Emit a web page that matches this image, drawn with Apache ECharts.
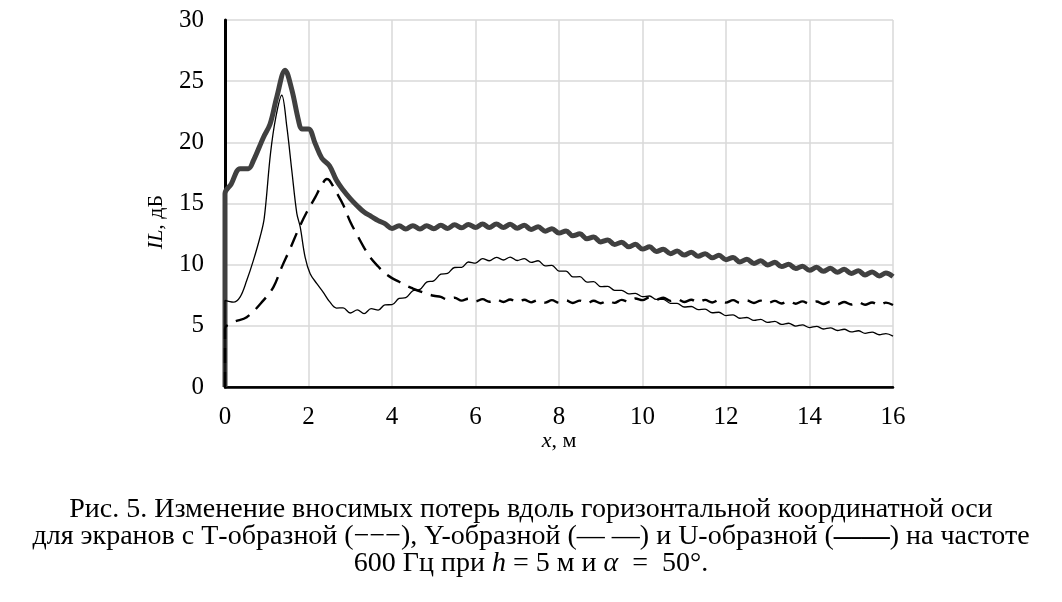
<!DOCTYPE html>
<html>
<head>
<meta charset="utf-8">
<script src="https://cdn.jsdelivr.net/npm/echarts@6/dist/echarts.min.js"></script>
<style>
  html, body { margin: 0; padding: 0; background: #fff; }
  #main { width: 1062px; height: 602px; }
</style>
</head>
<body>
<div id="main"></div>
<script>
var FONT = '"Liberation Serif", "Times New Roman", serif';

// x ticks / y ticks
var xTicks = [0, 2, 4, 6, 8, 10, 12, 14, 16];
var yTicks = [0, 5, 10, 15, 20, 25, 30];

// начальные участки кривых (x, IL)
var uHeadX = [0, 0, 0.15, 0.36, 0.56, 0.68, 0.92, 1.08, 1.24, 1.44, 1.6, 1.76, 1.84, 2.0, 2.16, 2.32];
var uHeadY = [0, 15.8, 16.6, 17.85, 17.85, 18.5, 20.4, 21.5, 23.7, 25.9, 24.3, 21.8, 21.1, 21.1, 19.9, 18.7];

var tHeadX = [0, 0, 0.2, 0.36, 0.52, 0.68, 0.84, 0.94, 1.09, 1.22, 1.36, 1.48, 1.6, 1.72, 1.8, 1.92, 2.04, 2.2, 2.35];
var tHeadY = [0, 7.08, 6.94, 7.35, 8.7, 10.35, 12.26, 13.8, 19.1, 22.1, 23.85, 21.3, 17.7, 14.2, 13.1, 10.6, 9.26, 8.45, 7.76];

var yHeadX = [0, 0, 0.2, 0.52, 0.92, 1.16, 1.36, 1.56, 1.76, 1.96, 2.16, 2.3, 2.44];
var yHeadY = [0, 4.76, 5.3, 5.7, 7.08, 8.17, 9.8, 11.3, 12.9, 14.3, 15.5, 16.4, 17.0];

// общая сетка x для дальнего участка (с пульсациями)
var xr = [2.5, 2.67, 2.83,
  3, 3.17, 3.33, 3.5, 3.67, 3.83,
  4, 4.17, 4.33, 4.5, 4.67, 4.83,
  5, 5.17, 5.33, 5.5, 5.67, 5.83,
  6, 6.17, 6.33, 6.5, 6.67, 6.83,
  7, 7.17, 7.33, 7.5, 7.67, 7.83,
  8, 8.17, 8.33, 8.5, 8.67, 8.83,
  9, 9.17, 9.33, 9.5, 9.67, 9.83,
  10, 10.17, 10.33, 10.5, 10.67, 10.83,
  11, 11.17, 11.33, 11.5, 11.67, 11.83,
  12, 12.17, 12.33, 12.5, 12.67, 12.83,
  13, 13.17, 13.33, 13.5, 13.67, 13.83,
  14, 14.17, 14.33, 14.5, 14.67, 14.83,
  15, 15.17, 15.33, 15.5, 15.67, 15.83,
  16];

// U-образный экран
var uTail = [18.1, 16.9, 16.1,
  15.4, 14.8, 14.3, 13.95, 13.6, 13.35,
  12.96, 13.19, 12.91, 13.19, 12.91, 13.19,
  12.94, 13.22, 12.96, 13.26, 13.01, 13.29,
  13.04, 13.32, 13.04, 13.32, 13.04, 13.3,
  12.98, 13.22, 12.88, 13.09, 12.74, 12.94,
  12.58, 12.76, 12.36, 12.52, 12.11, 12.26,
  11.86, 12.02, 11.64, 11.84, 11.46, 11.66,
  11.28, 11.46, 11.08, 11.26, 10.9, 11.12,
  10.78, 11.02, 10.68, 10.9, 10.56, 10.76,
  10.4, 10.59, 10.22, 10.44, 10.1, 10.32,
  9.98, 10.2, 9.84, 10.04, 9.68, 9.88,
  9.54, 9.78, 9.46, 9.7, 9.38, 9.62,
  9.28, 9.5, 9.16, 9.4, 9.08, 9.32,
  9.02];

// Т-образный экран
var tTail = [7.0, 6.45, 6.47,
  6.05, 6.3, 6.0, 6.4, 6.28, 6.72,
  6.73, 7.24, 7.3, 7.87, 7.98, 8.57,
  8.68, 9.22, 9.28, 9.77, 9.78, 10.22,
  10.13, 10.5, 10.32, 10.6, 10.38, 10.62,
  10.34, 10.5, 10.18, 10.32, 9.9, 9.94,
  9.48, 9.48, 9.0, 9.02, 8.58, 8.62,
  8.2, 8.23, 7.9, 7.9, 7.62, 7.66,
  7.39, 7.44, 7.16, 7.16, 6.84, 6.84,
  6.54, 6.58, 6.32, 6.36, 6.07, 6.11,
  5.84, 5.9, 5.62, 5.68, 5.44, 5.52,
  5.28, 5.36, 5.12, 5.21, 4.98, 5.08,
  4.86, 4.96, 4.74, 4.84, 4.62, 4.72,
  4.5, 4.6, 4.38, 4.49, 4.27, 4.37,
  4.16];

// Y-образный экран
var yTail = [16.9, 15.9, 14.9,
  13.5, 12.4, 11.4, 10.5, 9.85, 9.3,
  8.9, 8.6, 8.3, 8.05, 7.82, 7.62,
  7.46, 7.36, 7.15, 7.3, 7.06, 7.22,
  7.0, 7.18, 6.97, 7.16, 6.95, 7.15,
  6.94, 7.13, 6.92, 7.11, 6.9, 7.1,
  6.89, 7.08, 6.87, 7.06, 6.85, 7.05,
  6.85, 7.06, 6.88, 7.12, 6.98, 7.24,
  7.1, 7.34, 7.14, 7.3, 7.04, 7.18,
  6.95, 7.13, 6.92, 7.12, 6.91, 7.11,
  6.9, 7.1, 6.89, 7.08, 6.87, 7.06,
  6.85, 7.04, 6.83, 7.02, 6.81, 7.0,
  6.8, 6.99, 6.78, 6.97, 6.76, 6.95,
  6.74, 6.93, 6.72, 6.91, 6.7, 6.9,
  6.7];

function pairs(hx, hy, tail) {
    var out = [];
    for (var i = 0; i < hx.length; i++) out.push([hx[i], hy[i]]);
    for (var j = 0; j < xr.length; j++) out.push([xr[j], tail[j]]);
    return out;
}

var chart = echarts.init(document.getElementById('main'));

var CAP = 28;
var option = {
    backgroundColor: '#fff',
    animation: false,
    title: [{
        text: 'Рис. 5. Изменение вносимых потерь вдоль горизонтальной координатной оси',
        left: 'center', top: 491,
        textStyle: { fontFamily: FONT, fontSize: CAP, fontWeight: 'normal', color: '#000' }
    }, {
        text: 'для экранов с Т-образной (−−−), Y-образной (— —) и U-образной ({b|——}) на частоте',
        left: 'center', top: 518,
        textStyle: { fontFamily: FONT, fontSize: CAP, fontWeight: 'normal', color: '#000',
            rich: { b: { fontFamily: FONT, fontSize: CAP, fontWeight: 'bold', color: '#000' } } }
    }, {
        text: '600 Гц при {i|h} = 5 м и {i|α}\u2002=\u200250°.',
        left: 'center', top: 545,
        textStyle: { fontFamily: FONT, fontSize: CAP, fontWeight: 'normal', color: '#000',
            rich: { i: { fontFamily: FONT, fontSize: CAP, fontStyle: 'italic', color: '#000' } } }
    }],
    graphic: [{
        type: 'text',
        x: 559, y: 441,
        style: {
            text: '{i|x}, м',
            fontFamily: FONT, fontSize: 22, fill: '#000',
            align: 'center', verticalAlign: 'middle',
            rich: { i: { fontFamily: FONT, fontSize: 22, fontStyle: 'italic', fill: '#000' } }
        }
    }, {
        type: 'text',
        x: 156, y: 222,
        rotation: Math.PI / 2,
        style: {
            text: '{i|IL}, дБ',
            fontFamily: FONT, fontSize: 22, fill: '#000',
            align: 'center', verticalAlign: 'middle',
            rich: { i: { fontFamily: FONT, fontSize: 22, fontStyle: 'italic', fill: '#000' } }
        }
    }],
    grid: { left: 225, right: 169, top: 20, bottom: 215, containLabel: false },
    xAxis: [{
        type: 'value', min: xTicks[0], max: xTicks[xTicks.length - 1], interval: 2,
        axisLine: { lineStyle: { color: '#000', width: 1.5 } },
        axisTick: { show: false },
        axisLabel: { fontFamily: FONT, fontSize: 25, color: '#000', margin: 18 },
        splitLine: { show: true, lineStyle: { color: '#d9d9d9', width: 1.5 } }
    }, {
        type: 'value', position: 'top', min: 0, max: 16,
        axisLine: { show: true, lineStyle: { color: '#000', width: 2.5 } },
        axisTick: { show: false }, axisLabel: { show: false }, splitLine: { show: false }
    }],
    yAxis: [{
        type: 'value', min: yTicks[0], max: yTicks[yTicks.length - 1], interval: 5,
        axisLine: { show: true, lineStyle: { color: '#a6a6a6', width: 2 } },
        axisTick: { show: false },
        axisLabel: { fontFamily: FONT, fontSize: 25, color: '#000', margin: 21 },
        splitLine: { show: true, lineStyle: { color: '#d9d9d9', width: 1.5 } }
    }, {
        type: 'value', position: 'right', min: 0, max: 30,
        axisLine: { show: true, lineStyle: { color: '#000', width: 3 } },
        axisTick: { show: false }, axisLabel: { show: false }, splitLine: { show: false }
    }],
    series: [{
        name: 'T',
        type: 'line',
        data: pairs(tHeadX, tHeadY, tTail),
        smooth: 0.35,
        showSymbol: false,
        lineStyle: { color: '#000', width: 1.3 },
        z: 3
    }, {
        name: 'Y',
        type: 'line',
        data: pairs(yHeadX, yHeadY, yTail),
        smooth: 0.35,
        showSymbol: false,
        lineStyle: { color: '#000', width: 2.4, type: [15, 9] },
        z: 3
    }, {
        name: 'U',
        type: 'line',
        data: pairs(uHeadX, uHeadY, uTail),
        smooth: 0.35,
        showSymbol: false,
        lineStyle: { color: '#404040', width: 5 },
        z: 2
    }]
};

chart.setOption(option);
</script>
</body>
</html>
